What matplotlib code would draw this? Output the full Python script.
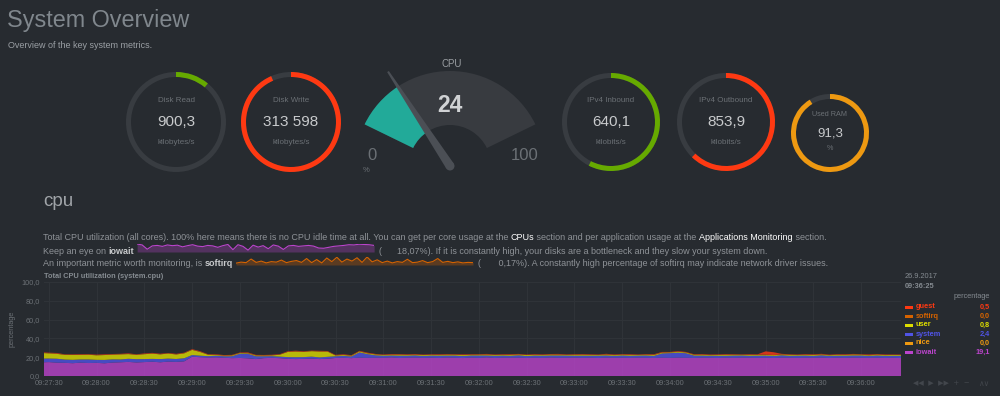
import matplotlib
matplotlib.use('Agg')
import numpy as np
import pandas as pd
import matplotlib.pyplot as plt
import matplotlib.dates as mdates
from matplotlib.patches import Wedge, Polygon, Circle, Rectangle
from matplotlib.ticker import FuncFormatter

plt.rcParams['font.family'] = ['Liberation Sans', 'DejaVu Sans']

BG = '#272b30'
TXT = '#858b91'
DIM = '#6b7075'

# gauges
gauge_names = ['Disk Read', 'Disk Write', 'IPv4 Inbound', 'IPv4 Outbound', 'Used RAM']
gauge_values = [900.3, 313598, 640.1, 853.9, 91.3]
gauge_max = [8180, 335400, 1113, 1372, 100]
gauge_text = ['900,3', '313 598', '640,1', '853,9', '91,3']
gauge_units = ['kilobytes/s', 'kilobytes/s', 'kilobits/s', 'kilobits/s', '%']
gauge_colors = ['#66aa00', '#fe3912', '#66aa00', '#fe3912', '#ee9911']
cpu_value = 24
cpu_max = 100

# cpu chart, 5 second samples from 09:27:25
iowait = [14.5, 14.8, 14.2, 14.0, 13.6, 14.2, 13.8, 14.0, 13.5, 14.3, 14.6, 15.0, 14.4,
          14.8, 15.2, 14.6, 15.3, 15.0, 15.6, 20.5, 20.0, 19.6, 19.8, 19.4, 19.0,
          19.2, 18.8, 18.0, 19.0, 19.3, 19.0, 18.3, 18.0, 18.2, 18.5, 18.0, 18.4,
          19.2, 19.4, 19.0, 19.6, 19.3, 19.5, 19.4, 19.8, 19.2, 19.5, 19.6, 19.3,
          19.5, 19.2, 19.7, 19.4, 19.1, 19.6, 19.3, 19.8, 19.2, 19.5, 19.4, 19.6,
          19.2, 19.5, 19.3, 19.7, 19.4, 19.5, 19.6, 19.3, 19.5, 19.2, 19.6, 19.4,
          19.5, 19.3, 19.6, 19.4, 19.2, 19.5, 19.3, 19.6, 19.4, 19.2, 19.5, 19.4,
          19.2, 19.5, 19.3, 19.6, 19.4, 19.3, 19.5, 19.2, 19.6, 19.4, 19.3, 19.5,
          19.4, 19.6, 19.2, 19.5, 19.3, 19.6, 19.4, 19.3, 19.5, 19.2, 19.4, 19.1]
nice = [0.0] * 109
system = [4.0, 3.8, 4.2, 3.5, 3.6, 3.4, 3.8, 3.2, 3.6, 3.4, 3.0, 3.3, 3.5,
          3.2, 3.0, 3.4, 3.2, 3.1, 3.3, 1.8, 1.6, 1.5, 1.8, 1.6, 2.0,
          4.5, 4.8, 3.0, 2.0, 1.8, 1.6, 1.8, 2.0, 1.9, 2.1, 1.8, 2.0,
          1.8, 2.0, 1.8, 5.5, 4.0, 2.5, 2.2, 2.0, 2.4, 2.1, 2.3, 2.0,
          2.2, 2.4, 2.0, 2.3, 2.1, 2.2, 2.5, 2.0, 2.3, 2.2, 2.1, 2.4,
          2.0, 2.2, 2.3, 2.1, 2.4, 2.2, 2.0, 2.3, 2.1, 2.4, 2.2, 2.0,
          2.3, 2.2, 2.1, 2.4, 2.2, 4.5, 5.0, 5.2, 4.8, 2.5, 2.2, 2.1,
          2.3, 2.0, 2.4, 2.2, 2.1, 2.3, 2.2, 2.0, 2.4, 2.1, 2.3, 2.2,
          2.0, 2.4, 2.2, 2.1, 2.3, 2.2, 2.4, 2.0, 2.3, 2.2, 2.1, 2.4]
user = [6.0, 5.5, 5.2, 5.0, 5.2, 4.8, 5.0, 4.8, 5.2, 5.0, 5.4, 5.0, 4.6,
        5.2, 5.6, 5.0, 5.4, 4.8, 5.2, 5.5, 4.0, 1.5, 0.8, 0.6, 0.8,
        0.7, 0.6, 0.8, 0.7, 0.8, 2.0, 5.5, 6.0, 5.5, 5.8, 6.2, 5.6,
        0.8, 0.9, 0.7, 1.0, 0.8, 0.9, 0.7, 0.8, 1.0, 0.8, 0.7, 0.9,
        0.8, 0.7, 0.9, 0.8, 1.0, 0.7, 0.8, 0.9, 0.8, 0.7, 0.9, 0.8,
        1.0, 0.8, 0.7, 0.9, 0.8, 0.7, 0.9, 1.0, 0.8, 0.7, 0.9, 0.8,
        0.8, 0.9, 0.7, 0.8, 1.0, 0.8, 0.7, 0.9, 0.8, 0.8, 0.9, 0.7,
        0.8, 1.0, 0.8, 0.7, 0.9, 0.8, 0.7, 0.9, 0.8, 1.0, 0.7, 0.8,
        0.9, 0.8, 0.7, 0.9, 0.8, 1.0, 0.8, 0.7, 0.9, 0.8, 0.9, 0.8]
softirq = [0.2, 0.2, 0.3, 0.2, 0.1, 0.2, 0.2, 0.3, 0.2, 0.2, 0.1, 0.2, 0.2,
           0.3, 0.2, 0.2, 0.2, 0.1, 0.2, 0.3, 0.2, 0.2, 0.2, 0.1, 0.2,
           0.2, 0.3, 0.2, 0.2, 0.1, 0.2, 0.2, 0.3, 0.2, 0.2, 0.2, 0.1,
           0.2, 0.2, 0.3, 0.2, 0.2, 0.1, 0.2, 0.2, 0.3, 0.2, 0.2, 0.2,
           0.1, 0.2, 0.2, 0.3, 0.2, 0.2, 0.1, 0.2, 0.2, 0.3, 0.2, 0.2,
           0.2, 0.1, 0.2, 0.2, 0.3, 0.2, 0.2, 0.1, 0.2, 0.2, 0.3, 0.2,
           0.2, 0.2, 0.1, 0.2, 0.2, 0.3, 0.2, 0.2, 0.1, 0.2, 0.2, 0.3,
           0.2, 0.2, 0.2, 0.1, 0.2, 0.2, 0.3, 0.2, 0.2, 0.1, 0.2, 0.2,
           0.3, 0.2, 0.2, 0.2, 0.1, 0.2, 0.2, 0.3, 0.2, 0.2, 0.1, 0.0]
guest = [0.6, 0.5, 0.6, 0.4, 0.5, 0.6, 0.5, 0.4, 0.6, 0.5, 0.5, 0.6, 0.4,
         0.5, 0.6, 0.5, 0.4, 0.6, 0.5, 0.5, 0.6, 0.4, 0.5, 0.6, 0.5,
         0.4, 0.6, 0.5, 0.5, 0.6, 0.4, 0.5, 0.6, 0.5, 0.4, 0.6, 0.5,
         0.5, 0.6, 0.4, 0.5, 0.6, 0.5, 0.4, 0.6, 0.5, 0.5, 0.6, 0.4,
         0.5, 0.6, 0.5, 0.4, 0.6, 0.5, 0.5, 0.6, 0.4, 0.5, 0.6, 0.5,
         0.4, 0.6, 0.5, 0.5, 0.6, 0.4, 0.5, 0.6, 0.5, 0.4, 0.6, 0.5,
         0.5, 0.6, 0.4, 0.5, 0.6, 0.5, 0.4, 0.6, 0.5, 0.5, 0.6, 0.4,
         0.5, 0.6, 0.5, 0.4, 0.6, 0.5, 3.5, 3.0, 0.6, 0.5, 0.4, 0.6,
         0.5, 0.6, 0.4, 0.5, 0.6, 0.5, 0.4, 0.6, 0.5, 0.5, 0.4, 0.5]

dim_names = ['guest', 'softirq', 'user', 'system', 'nice', 'iowait']
dim_colors = ['#fe3912', '#d66300', '#dddd00', '#5054e6', '#ee9911', '#bb44cc']

iowait_spark = [19.6, 19.2, 17.4, 18.8, 19.0, 18.6, 19.2, 18.9, 19.1, 18.4, 18.9, 19.3,
                18.7, 18.5, 19.0, 18.8, 18.2, 18.9, 19.4, 17.2, 19.3, 18.6, 17.0, 19.1,
                18.3, 18.9, 17.6, 19.2, 18.7, 17.3, 18.8, 19.0, 18.6, 18.8, 19.0, 18.7,
                17.9, 17.8, 18.2, 18.6, 18.8, 19.0, 19.3, 19.2, 19.5, 19.4, 19.3, 19.0]
softirq_spark = [0.12, 0.16, 0.14, 0.28, 0.15, 0.20, 0.13, 0.18, 0.16, 0.24, 0.14, 0.19,
                 0.22, 0.15, 0.30, 0.14, 0.26, 0.13, 0.32, 0.18, 0.35, 0.16, 0.28, 0.20,
                 0.33, 0.15, 0.36, 0.17, 0.25, 0.14, 0.20, 0.13, 0.18, 0.15, 0.27, 0.14,
                 0.16, 0.22, 0.14, 0.18, 0.30, 0.15, 0.19, 0.14, 0.17, 0.13, 0.15, 0.14]

W, H = 1000, 396
fig = plt.figure(figsize=(W / 100, H / 100), dpi=100, facecolor=BG)
bg = fig.add_axes([0, 0, 1, 1])
bg.set_xlim(0, W)
bg.set_ylim(H, 0)
bg.axis('off')
renderer = fig.canvas.get_renderer()

bg.text(7, 20, 'System Overview', fontsize=16.8, color='#80878d', va='center')
bg.text(8, 45, 'Overview of the key system metrics.', fontsize=6.5, color='#9a9fa4', va='center')

# ring gauges
centers = [(176, 122, 50), (291, 122, 50), (611, 122, 49), (726, 122, 49), (830, 133, 39)]
for (cx, cy, r), name, v, m, t, u, c in zip(centers, gauge_names, gauge_values, gauge_max,
                                            gauge_text, gauge_units, gauge_colors):
    bg.add_patch(Wedge((cx, cy), r, 0, 360, width=5, color='#383c41', lw=0))
    bg.add_patch(Wedge((cx, cy), r, -90, -90 + 360 * v / m, width=5, color=c, lw=0))
    small = r < 45
    bg.text(cx, cy - (19 if small else 22), name, fontsize=5.2 if small else 5.8, color=DIM, ha='center', va='center')
    bg.text(cx, cy, t, fontsize=9.5 if small else 11, color='#c8cacc', ha='center', va='center')
    bg.text(cx, cy + (16 if small else 20), u, fontsize=5.2 if small else 5.8, color=DIM, ha='center', va='center')

# cpu gauge
gx, gy = 450, 166
a0, span = 154, 128
bg.add_patch(Wedge((gx, gy), 95, -a0, -(a0 - span), width=54, color='#383b40', lw=0))
ang = a0 - span * cpu_value / cpu_max
bg.add_patch(Wedge((gx, gy), 95, -a0, -ang, width=54, color='#22aa99', lw=0))
d = np.array([np.cos(np.radians(ang)), -np.sin(np.radians(ang))])
p = np.array([d[1] * -1, d[0]])
base = np.array([gx, gy])
tip = base + d * 113
bg.add_patch(Polygon([base + p * 4.5, tip + p * 1, tip - p * 1, base - p * 4.5], closed=True,
                     color='#4b4f55', lw=0))
bg.add_patch(Circle((gx, gy), 4.5, color='#4b4f55', lw=0))
bg.text(452, 64, 'CPU', fontsize=7, color='#9a9ea2', ha='center', va='center')
bg.text(450, 105, str(cpu_value), fontsize=16.5, fontweight='bold', color='#d0d2d4', ha='center', va='center')
bg.text(372, 156, '0', fontsize=12, color=DIM, ha='center', va='center')
bg.text(525, 156, str(cpu_max), fontsize=12, color=DIM, ha='center', va='center')
bg.text(366, 170, '%', fontsize=5.5, color=DIM, ha='center', va='center')

# section
bg.text(43, 202, 'cpu', fontsize=13.5, color='#a0a4a8', va='center')

FS = 6.45
PTXT = '#8e9297'


def run(x, y, parts):
    for s, col, wt in parts:
        t = bg.text(x, y, s, fontsize=FS, color=col, fontweight=wt, va='center', ha='left')
        x += t.get_window_extent(renderer=renderer).width
    return x


def spark(x, y, vals, col):
    ax = fig.add_axes([x / W, 1 - (y + 4) / H, 237 / W, 8 / H])
    ax.set_facecolor('none')
    xs = np.arange(len(vals))
    lo = min(vals) - (max(vals) - min(vals)) * 0.3
    ax.plot(xs, vals, color=col, lw=0.8)
    ax.fill_between(xs, vals, lo, color=col, alpha=0.3, lw=0)
    ax.set_xlim(0, len(vals) - 1)
    ax.set_ylim(lo, max(vals))
    ax.axis('off')


run(43, 238, [('Total CPU utilization (all cores). 100% here means there is no CPU idle time at all. '
               'You can get per core usage at the ', PTXT, 'normal'),
              ('CPUs', '#ffffff', 'normal'),
              (' section and per application usage at the ', PTXT, 'normal'),
              ('Applications Monitoring', '#ffffff', 'normal'),
              (' section.', PTXT, 'normal')])
x = run(43, 251, [('Keep an eye on ', PTXT, 'normal'), ('iowait', '#c8cacc', 'bold')])
spark(x + 3, 248, iowait_spark, '#bb44cc')
run(x + 3 + 237 + 5, 251, [('(      18,07%). If it is constantly high, your disks are a bottleneck '
                            'and they slow your system down.', PTXT, 'normal')])
x = run(43, 264, [('An important metric worth monitoring, is ', PTXT, 'normal'), ('softirq', '#c8cacc', 'bold')])
spark(x + 3, 261, softirq_spark, '#d66300')
run(x + 3 + 237 + 5, 264, [('(       0,17%). A constantly high percentage of softirq may indicate '
                            'network driver issues.', PTXT, 'normal')])

# main chart
times = pd.date_range('2017-09-26 09:27:25', periods=len(iowait), freq='5s')
tx = mdates.date2num(times.to_pydatetime())
ax = fig.add_axes([44 / W, 1 - 376 / H, 857 / W, 94 / H])
ax.set_facecolor('none')
ax.stackplot(tx, iowait, nice, system, user, softirq, guest,
             colors=[dim_colors[5], dim_colors[4], dim_colors[3], dim_colors[2], dim_colors[1], dim_colors[0]],
             alpha=0.8, lw=0)
ax.set_xlim(mdates.date2num(pd.Timestamp('2017-09-26 09:27:27')),
            mdates.date2num(pd.Timestamp('2017-09-26 09:36:25')))
ax.set_ylim(0, 100)
ax.set_yticks([0, 20, 40, 60, 80, 100])
ax.yaxis.set_major_formatter(FuncFormatter(lambda v, pos: f'{v:.1f}'.replace('.', ',')))
ax.xaxis.set_major_locator(mdates.SecondLocator(bysecond=[0, 30]))
ax.xaxis.set_major_formatter(mdates.DateFormatter('%H:%M:%S'))
ax.grid(True, color='#2f3338', lw=0.8)
ax.set_axisbelow(True)
for s in ax.spines.values():
    s.set_visible(False)
ax.tick_params(length=0, labelsize=5.3, labelcolor=DIM, pad=3)
bg.text(12, 329, 'percentage', fontsize=5.3, color=DIM, rotation=90, ha='center', va='center')

bg.text(44, 277, 'Total CPU utilization (system.cpu)', fontsize=5.3, fontweight='bold', color=TXT, va='center')

# legend
bg.text(905, 277, '26.9.2017', fontsize=5.3, color=TXT, va='center')
bg.text(905, 286, '09:36:25', fontsize=5.3, fontweight='bold', color=TXT, va='center')
bg.text(990, 297, 'percentage', fontsize=5.3, color=TXT, va='center', ha='right')
last = [guest[-1], softirq[-1], user[-1], system[-1], nice[-1], iowait[-1]]
for i, (n, c, v) in enumerate(zip(dim_names, dim_colors, last)):
    y = 307 + i * 9
    bg.add_patch(Rectangle((905, y - 1.5), 8, 3, color=c, lw=0))
    bg.text(916, y, n, fontsize=5.3, fontweight='bold', color=c, va='center')
    bg.text(990, y, f'{v:.1f}'.replace('.', ','), fontsize=5.3, fontweight='bold', color=c, va='center', ha='right')

bg.text(913, 383, '◀◀  ▶  ▶▶  +  −', fontsize=5, color='#42464c', va='center', family=['DejaVu Sans'])
bg.text(978, 383, '∧∨', fontsize=5.5, color='#42464c', va='center', family=['DejaVu Sans'])

fig.savefig('out.png', dpi=100, facecolor=BG)
